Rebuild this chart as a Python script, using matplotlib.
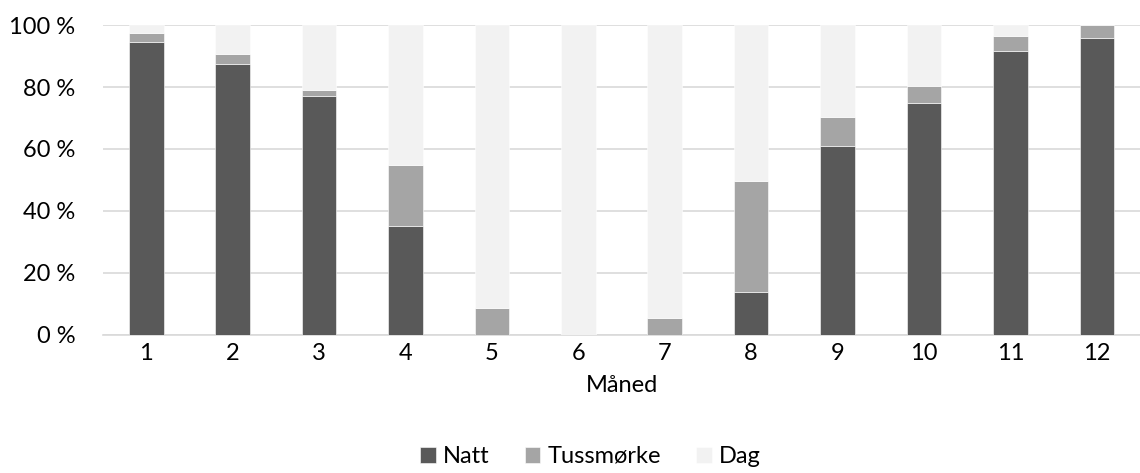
import matplotlib.pyplot as plt
import numpy as np

plt.rcParams["font.family"] = ["Lato", "DejaVu Sans"]

# Share of each month (percent) by light condition
months = ["1", "2", "3", "4", "5", "6", "7", "8", "9", "10", "11", "12"]
natt = [94.6, 87.5, 77.2, 35.3, 0.0, 0.0, 0.0, 14.0, 61.1, 74.9, 91.7, 95.9]
tussmorke = [2.9, 3.2, 1.9, 19.5, 8.6, 0.0, 5.6, 35.6, 9.2, 5.5, 4.8, 4.1]
dag = [2.5, 9.3, 20.9, 45.2, 91.4, 100.0, 94.4, 50.4, 29.7, 19.6, 3.5, 0.0]
yticks = [0, 20, 40, 60, 80, 100]

series = [("Natt", natt, "#595959"),
          ("Tussmørke", tussmorke, "#a5a5a5"),
          ("Dag", dag, "#f2f2f2")]

fs = 17

fig = plt.figure(figsize=(11.4, 4.73), dpi=100)
ax = fig.add_axes([0.0904, 0.292, 0.9096, 0.655])

x = np.arange(1, len(months) + 1)
bottom = np.zeros(len(months))
for name, vals, color in series:
    vals = np.array(vals)
    ax.bar(x, vals, width=0.4, bottom=bottom, color=color, label=name,
           edgecolor="white", linewidth=0.4, zorder=3)
    bottom += vals

ax.set_xlim(0.5, 12.5)
ax.set_ylim(0, 100)
ax.set_yticks(yticks)
ax.set_yticklabels([f"{t} %" for t in yticks])
ax.set_xticks(x)
ax.set_xticklabels(months)
ax.grid(axis="y", color="#d9d9d9", linewidth=1.2, zorder=0)
for side in ["top", "right", "left"]:
    ax.spines[side].set_visible(False)
ax.spines["bottom"].set_color("#d9d9d9")
ax.spines["bottom"].set_linewidth(1.2)
ax.tick_params(axis="both", length=0, labelsize=fs, colors="#000000")
ax.tick_params(axis="y", pad=20)
ax.tick_params(axis="x", pad=6)
ax.set_xlabel("Måned", fontsize=fs, labelpad=8)

ax.legend(loc="upper center", bbox_to_anchor=(0.47, -0.29), ncol=3,
          frameon=False, fontsize=fs, handlelength=0.65, handleheight=0.65,
          handletextpad=0.3, columnspacing=1.5)

fig.savefig("out.png", dpi=100)
